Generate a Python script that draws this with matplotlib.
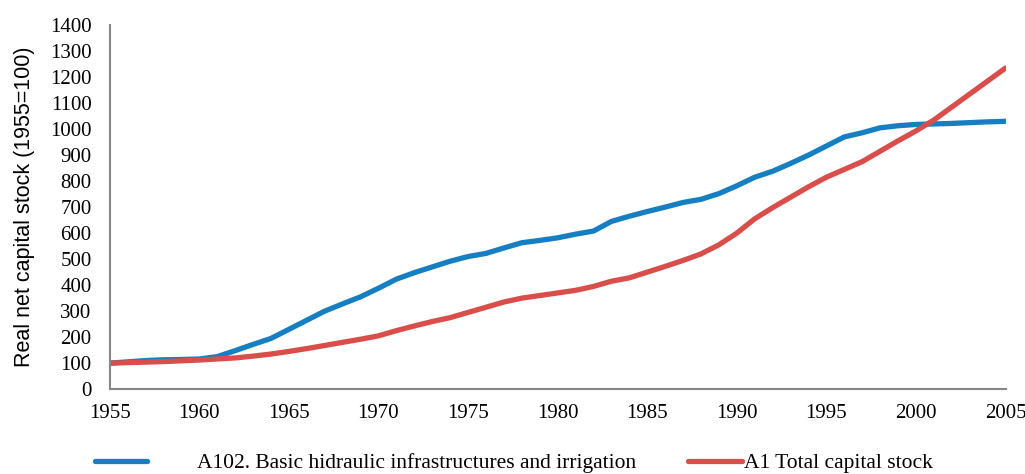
import numpy as np
from matplotlib import pyplot as plt
from matplotlib.lines import Line2D

# Data (index 1955=100)
years = list(range(1955, 2006))
irrigation = [100, 105, 110, 113, 114, 116, 125, 148, 172, 195,
              230, 265, 300, 328, 355, 388, 423, 448, 470, 492,
              510, 522, 543, 563, 572, 582, 596, 608, 645, 665,
              683, 700, 718, 730, 752, 782, 815, 838, 868, 900,
              935, 970, 986, 1005, 1013, 1018, 1020, 1022, 1025, 1028,
              1030]
total = [100, 102, 104, 106, 109, 112, 116, 120, 127, 135,
         145, 156, 168, 180, 192, 205, 225, 243, 260, 275,
         295, 315, 335, 350, 360, 370, 380, 395, 415, 428,
         450, 472, 495, 520, 555, 600, 655, 698, 738, 778,
         815, 845, 875, 915, 955, 993, 1035, 1085, 1135, 1185,
         1235]
labels = ['A102. Basic hidraulic infrastructures and irrigation',
          'A1 Total capital stock']
xticks = list(range(1955, 2006, 5))
yticks = list(range(0, 1401, 100))

blue = '#157FC2'
red = '#D94E4A'
serif = ['Liberation Serif', 'DejaVu Serif']
fs = 15.5

fig = plt.figure(figsize=(10.25, 4.74), dpi=100)
ax = fig.add_axes([0.107, 0.179, 0.874, 0.768])

ax.plot(years, irrigation, color=blue, lw=3.8, solid_capstyle='round', solid_joinstyle='round')
ax.plot(years, total, color=red, lw=3.8, solid_capstyle='round', solid_joinstyle='round')

ax.set_xlim(1955, 2005)
ax.set_ylim(0, 1400)
ax.set_xticks(xticks)
ax.set_yticks(yticks)
for lab in ax.get_xticklabels() + ax.get_yticklabels():
    lab.set_family(serif)
    lab.set_fontsize(15)
ax.tick_params(length=0)
ax.tick_params(axis='x', pad=11)
ax.tick_params(axis='y', pad=13)

for s in ['top', 'right']:
    ax.spines[s].set_visible(False)
for s in ['left', 'bottom']:
    ax.spines[s].set_color('#868686')
    ax.spines[s].set_linewidth(1.5)

ax.set_ylabel('Real net capital stock (1955=100)', family=['Liberation Sans', 'DejaVu Sans'],
              fontsize=fs, labelpad=11)

# Two separate legend entries below the plot
h1 = Line2D([], [], color=blue, lw=3.8, solid_capstyle='round')
h2 = Line2D([], [], color=red, lw=3.8, solid_capstyle='round')
fig.legend([h1], [labels[0]], loc='center left', bbox_to_anchor=(0.093, 0.023),
           frameon=False, prop={'family': serif, 'size': fs},
           handlelength=2.4, handletextpad=2.3, borderaxespad=0, borderpad=0)
fig.legend([h2], [labels[1]], loc='center left', bbox_to_anchor=(0.671, 0.023),
           frameon=False, prop={'family': serif, 'size': fs},
           handlelength=2.5, handletextpad=0.12, borderaxespad=0, borderpad=0)

fig.savefig('out.png', dpi=100)
